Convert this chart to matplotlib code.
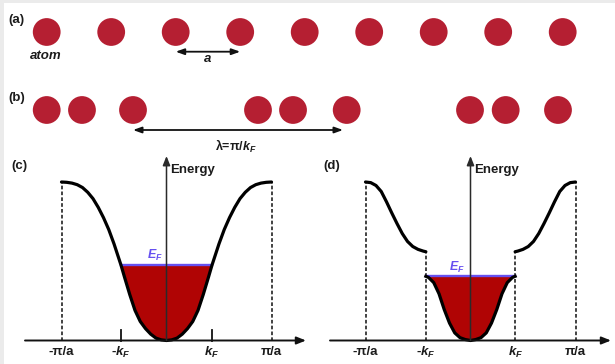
import numpy as np
import matplotlib
matplotlib.use("Agg")
import matplotlib.pyplot as plt
from matplotlib.patches import Rectangle

plt.rcParams['font.family'] = ['Liberation Sans', 'DejaVu Sans']
plt.rcParams['mathtext.fontset'] = 'custom'
plt.rcParams['mathtext.rm'] = 'Liberation Sans:bold'
plt.rcParams['mathtext.it'] = 'Liberation Sans:italic:bold'
plt.rcParams['mathtext.bf'] = 'Liberation Sans:bold'

# ---- atom chains (positions in units of the lattice constant a) ----
chain_a = [0, 1, 2, 3, 4, 5, 6, 7, 8]
chain_b = [0, 0.547, 1.338, 3.276, 3.819, 4.651, 6.563, 7.116, 7.927]
arrow_a = (2.0, 3.0)
arrow_lambda = (1.338, 4.594)

# ---- band (c): half band for k >= 0, k in units of pi/a, E normalised ----
c_k = [0, 0.05, 0.10, 0.15, 0.20, 0.25, 0.30, 0.35, 0.40, 0.433,
       0.50, 0.55, 0.60, 0.65, 0.70, 0.75, 0.80, 0.85, 0.90, 0.95, 1.0]
c_E = [0, 0.004, 0.015, 0.04, 0.075, 0.12, 0.19, 0.29, 0.40, 0.475,
       0.61, 0.70, 0.775, 0.84, 0.895, 0.935, 0.965, 0.983, 0.993, 0.998, 1.0]
c_kF = 0.433
c_EF = 0.475

# ---- band (d): gapped band, inner and outer branches for k >= 0 ----
d_k_in = [0, 0.05, 0.10, 0.15, 0.20, 0.25, 0.30, 0.35, 0.40, 0.425]
d_E_in = [0, 0.006, 0.018, 0.048, 0.11, 0.195, 0.295, 0.365, 0.398, 0.405]
d_k_out = [0.425, 0.45, 0.50, 0.55, 0.60, 0.65, 0.70, 0.75, 0.80, 0.85, 0.90, 0.95, 1.0]
d_E_out = [0.56, 0.564, 0.575, 0.593, 0.625, 0.675, 0.738, 0.805, 0.875, 0.94, 0.978, 0.996, 1.0]
d_kF = 0.425
d_EF = 0.405

tick_labels = ['-π/a', r'-$k_F$', r'$k_F$', 'π/a']

ATOM = '#b51f32'
FILL = '#b00404'
EFC = '#6650f0'
INK = '#111111'
TXT = '#1c1c1c'

W, H = 615, 364
fig = plt.figure(figsize=(W / 100, H / 100), dpi=100)
fig.patch.set_facecolor('white')
fig.patches.append(Rectangle((0, 0), 4 / W, 1, transform=fig.transFigure,
                             facecolor='#ebebeb', edgecolor='none'))
fig.patches.append(Rectangle((0, 1 - 3 / H), 1, 3 / H, transform=fig.transFigure,
                             facecolor='#ebebeb', edgecolor='none'))


def px_axes(left, top, right, bottom, xlim, ylim):
    ax = fig.add_axes([left / W, 1 - bottom / H, (right - left) / W, (bottom - top) / H])
    ax.set_xlim(*xlim)
    ax.set_ylim(*ylim)
    ax.axis('off')
    return ax


def ftext(x, y, s, **kw):
    fig.text(x / W, 1 - y / H, s, **kw)


# ---------------- atom rows ----------------
a_px, x0 = 64.5, 46.7
row_gap = 78.0
ax0 = px_axes(0, 0, W, 150, (-x0 / a_px, (W - x0) / a_px),
              (-(150 - 110) / row_gap, 1 + 32 / row_gap))
ax0.scatter(chain_a, np.ones(len(chain_a)), s=400, color=ATOM, edgecolor='none', zorder=3)
ax0.scatter(chain_b, np.zeros(len(chain_b)), s=400, color=ATOM, edgecolor='none', zorder=3)
arr = dict(arrowstyle='<|-|>,head_length=0.5,head_width=0.18', lw=1.3, color=INK,
           shrinkA=0, shrinkB=0)
ya = 1 - (51.7 - 32) / row_gap
ax0.annotate('', xy=(arrow_a[1], ya), xytext=(arrow_a[0], ya), arrowprops=arr)
yb = -(130 - 110) / row_gap
ax0.annotate('', xy=(arrow_lambda[1], yb), xytext=(arrow_lambda[0], yb), arrowprops=arr)

ftext(8, 20, '(a)', fontsize=9.5, fontweight='bold', va='center', ha='left', color=TXT)
ftext(8, 98, '(b)', fontsize=9.5, fontweight='bold', va='center', ha='left', color=TXT)
ftext(46, 56, 'atom', fontsize=9.5, fontweight='bold', style='italic', va='center',
      ha='center', color=TXT)
ftext(208, 58.5, 'a', fontsize=9.5, fontweight='bold', style='italic', va='center',
      ha='center', color=TXT)
ftext(236, 146, r'λ=π/$k_F$', fontsize=9, fontweight='bold', va='center',
      ha='center', color=TXT)


# ---------------- band panels ----------------
def mirror(k, E):
    k = np.asarray(k, float)
    E = np.asarray(E, float)
    return np.concatenate([-k[::-1], k[1:]]), np.concatenate([E[::-1], E[1:]])


def band_axes(left, cx):
    ux, uy, base = 105.0, 158.5, 340.5
    right = left + 297
    ax = px_axes(left, 150, right, 362,
                 ((left - cx) / ux, (right - cx) / ux),
                 ((base - 362) / uy, (base - 150) / uy))
    return ax, ux, uy, base


def frame(ax, cx, ux, uy, base, x_from, x_to):
    ax.annotate('', xy=((x_to - cx) / ux, 0), xytext=((x_from - cx) / ux, 0),
                arrowprops=dict(arrowstyle='-|>,head_length=0.55,head_width=0.22',
                                lw=1.4, color=INK, shrinkA=0, shrinkB=0), zorder=6)
    ax.annotate('', xy=(0, (base - 156) / uy), xytext=(0, 0),
                arrowprops=dict(arrowstyle='-|>,head_length=0.55,head_width=0.22',
                                lw=1.1, color='#2a2a2a', shrinkA=0, shrinkB=0), zorder=6)
    ax.text(0.035, (base - 170.5) / uy, 'Energy', fontsize=9.5, fontweight='bold',
            ha='left', va='center', color=TXT)


dash = dict(ls=(0, (2.2, 1.3)), lw=1.2, color='#222222', zorder=2)
lab = dict(fontsize=9.5, fontweight='bold', ha='center', va='center', color=TXT)

# (c) single cosine-like band
axc, ux, uy, base = band_axes(15, 166.5)
kc, Ec = mirror(c_k, c_E)
inside = np.abs(kc) <= c_kF + 1e-9
axc.fill_between(kc[inside], Ec[inside], c_EF, color=FILL, lw=0, zorder=1)
axc.plot(kc, Ec, color='black', lw=2.3, solid_capstyle='round', zorder=4)
axc.plot([-c_kF, c_kF], [c_EF, c_EF], color=EFC, lw=1.7, zorder=3)
for s in (-1, 1):
    axc.plot([s, s], [0, 1], **dash)
    axc.plot([s * c_kF, s * c_kF], [0, 0.065], color=INK, lw=1.3, zorder=5)
frame(axc, 166.5, ux, uy, base, 25, 306)
axc.text(-0.03, c_EF + 9.5 / uy, r'$E_F$', fontsize=9, color=EFC, ha='right', va='center')
y_lab = (base - 352) / uy
for k, s in zip([-1, -c_kF, c_kF, 1], tick_labels):
    axc.text(k, y_lab, s, **lab)
ftext(11, 166, '(c)', fontsize=9.5, fontweight='bold', va='center', ha='left', color=TXT)

# (d) band with a gap opened at +-kF
axd, ux, uy, base = band_axes(318, 470.5)
ki, Ei = mirror(d_k_in, d_E_in)
axd.fill_between(ki, Ei, d_EF, color=FILL, lw=0, zorder=1)
axd.plot(ki, Ei, color='black', lw=2.3, zorder=4)
ko = np.asarray(d_k_out)
Eo = np.asarray(d_E_out)
axd.plot(ko, Eo, color='black', lw=2.3, solid_capstyle='round', zorder=4)
axd.plot(-ko, Eo, color='black', lw=2.3, solid_capstyle='round', zorder=4)
axd.plot([-d_kF, d_kF], [d_EF, d_EF], color=EFC, lw=1.7, zorder=3)
for s in (-1, 1):
    axd.plot([s, s], [0, 1], **dash)
    axd.plot([s * d_kF, s * d_kF], [0, d_E_out[0]], **dash)
frame(axd, 470.5, ux, uy, base, 330, 611)
axd.text(-0.05, d_EF + 9 / uy, r'$E_F$', fontsize=9, color=EFC, ha='right', va='center')
for k, s in zip([-1, -d_kF, d_kF, 1], tick_labels):
    axd.text(k, y_lab, s, **lab)
ftext(323, 166, '(d)', fontsize=9.5, fontweight='bold', va='center', ha='left', color=TXT)

fig.savefig('out.png', dpi=100, facecolor='white')
